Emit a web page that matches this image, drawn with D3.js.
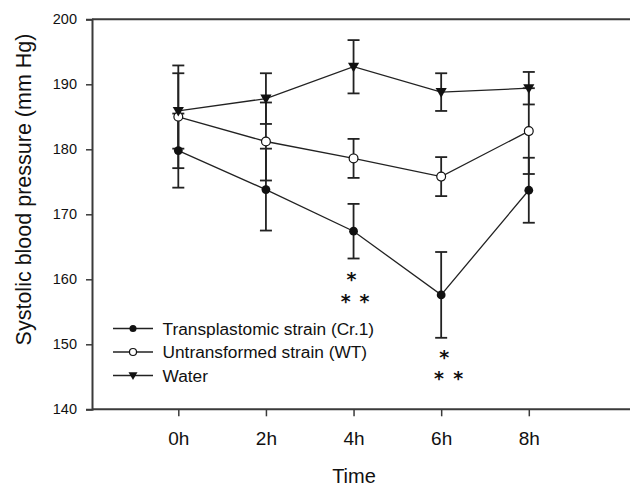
<!DOCTYPE html>
<html>
<head>
<meta charset="utf-8">
<script src="https://cdn.jsdelivr.net/npm/d3@7"></script>
<style>
  body { margin: 0; background: #fff; }
  svg { display: block; font-family: "Liberation Sans", Arial, sans-serif; }
</style>
</head>
<body>
<svg id="chart" width="630" height="486"></svg>
<script>
// ---- data ----
const times = [0, 2, 4, 6, 8];
const timeLabels = ["0h", "2h", "4h", "6h", "8h"];
const yTicks = [140, 150, 160, 170, 180, 190, 200];
const seriesNames = ["Transplastomic strain (Cr.1)", "Untransformed strain (WT)", "Water"];
const cr1Values = [179.8, 173.8, 167.4, 157.6, 173.7];
const cr1Errors = [5.7, 6.3, 4.2, 6.6, 5.0];
const wtValues = [185.0, 181.2, 178.6, 175.8, 182.8];
const wtErrors = [7.9, 6.0, 3.0, 3.0, 6.6];
const waterValues = [185.9, 187.8, 192.7, 188.8, 189.4];
const waterErrors = [5.8, 3.9, 4.1, 2.9, 2.5];
// significance asterisks: [time (h), value (mm Hg)]
const sigTimes = [3.95, 3.82, 4.25, 6.07, 5.95, 6.39];
const sigValues = [160.7, 157.3, 157.3, 148.7, 145.5, 145.5];

const series = [
  { name: seriesNames[0], values: cr1Values, errors: cr1Errors, marker: "filledCircle" },
  { name: seriesNames[1], values: wtValues, errors: wtErrors, marker: "openCircle" },
  { name: seriesNames[2], values: waterValues, errors: waterErrors, marker: "triangle" }
];

// ---- layout ----
const svg = d3.select("#chart");
const pLeft = 92, pRight = 630, pTop = 19.3, pBottom = 409.3;
const x = d3.scaleLinear().domain([-1.97, 10.31]).range([pLeft, pRight]);
const y = d3.scaleLinear().domain([140, 200]).range([pBottom, pTop]);
const axisColor = "#3a3a3a";
const ink = "#111";

// frame lines
svg.append("line").attr("x1", pLeft).attr("x2", pRight).attr("y1", pTop).attr("y2", pTop)
  .attr("stroke", axisColor).attr("stroke-width", 2);
svg.append("line").attr("x1", pLeft).attr("x2", pRight).attr("y1", pBottom).attr("y2", pBottom)
  .attr("stroke", axisColor).attr("stroke-width", 2);

// y axis
const yAxis = d3.axisLeft(y).tickValues(yTicks).tickSize(6).tickPadding(9).tickFormat(d3.format("d"));
const gy = svg.append("g").attr("transform", `translate(${pLeft},0)`).call(yAxis);
gy.select(".domain").attr("stroke", axisColor).attr("stroke-width", 2);
gy.selectAll(".tick line").attr("stroke", axisColor).attr("stroke-width", 1.5);
gy.selectAll(".tick text").attr("font-size", 14.5).attr("fill", "#111")
  .attr("font-family", "Liberation Sans, Arial, sans-serif");

// x axis
const xAxis = d3.axisBottom(x).tickValues(times).tickSize(7).tickPadding(15)
  .tickFormat((d, i) => timeLabels[i]);
const gx = svg.append("g").attr("transform", `translate(0,${pBottom})`).call(xAxis);
gx.select(".domain").remove();
gx.selectAll(".tick line").attr("stroke", axisColor).attr("stroke-width", 1.5);
gx.selectAll(".tick text").attr("font-size", 19).attr("fill", "#111")
  .attr("font-family", "Liberation Sans, Arial, sans-serif");

// axis titles
svg.append("text").attr("x", 354).attr("y", 483).attr("text-anchor", "middle")
  .attr("font-size", 20).attr("fill", "#111").text("Time");
svg.append("text").attr("transform", `translate(31,189.5) rotate(-90)`)
  .attr("text-anchor", "middle").attr("font-size", 21.5).attr("fill", "#111")
  .text("Systolic blood pressure (mm Hg)");

// marker drawing
function drawMarker(g, type, cx, cy, scale) {
  const s = scale || 1;
  if (type === "filledCircle") {
    g.append("circle").attr("cx", cx).attr("cy", cy).attr("r", 4.4 * s).attr("fill", ink);
  } else if (type === "openCircle") {
    g.append("circle").attr("cx", cx).attr("cy", cy).attr("r", 4.4 * s).attr("fill", "#fff")
      .attr("stroke", ink).attr("stroke-width", 1.2);
  } else {
    const w = 5.6 * s, h = 4 * s;
    g.append("path").attr("d", `M${cx - w},${cy - h}L${cx + w},${cy - h}L${cx},${cy + h * 1.4}Z`)
      .attr("fill", ink);
  }
}

const plot = svg.append("g");
const lineGen = d3.line().x((d, i) => x(times[i])).y(d => y(d));

// lines
series.forEach(s => {
  plot.append("path").datum(s.values).attr("d", lineGen)
    .attr("fill", "none").attr("stroke", "#222").attr("stroke-width", 1.3);
});
// error bars
series.forEach(s => {
  s.values.forEach((v, i) => {
    const cx = x(times[i]);
    const y1 = y(v + s.errors[i]), y2 = y(v - s.errors[i]);
    plot.append("line").attr("x1", cx).attr("x2", cx).attr("y1", y1).attr("y2", y2)
      .attr("stroke", "#222").attr("stroke-width", 1.8);
    [y1, y2].forEach(yy => {
      plot.append("line").attr("x1", cx - 6).attr("x2", cx + 6).attr("y1", yy).attr("y2", yy)
        .attr("stroke", "#222").attr("stroke-width", 1.8);
    });
  });
});
// markers
series.forEach(s => {
  s.values.forEach((v, i) => drawMarker(plot, s.marker, x(times[i]), y(v)));
});

// significance asterisks
const astSize = 19;
sigTimes.forEach((t, i) => {
  svg.append("text").attr("x", x(t)).attr("y", y(sigValues[i]) + 0.6 * astSize)
    .attr("text-anchor", "middle").attr("font-size", astSize)
    .attr("font-family", "DejaVu Sans, sans-serif").attr("font-weight", "bold")
    .attr("fill", ink).text("*");
});

// legend
const legend = svg.append("g");
series.forEach((s, i) => {
  const ly = 328.5 + i * 23.5;
  legend.append("line").attr("x1", 113).attr("x2", 153).attr("y1", ly).attr("y2", ly)
    .attr("stroke", "#222").attr("stroke-width", 1.3);
  drawMarker(legend, s.marker, 133, ly, 0.8);
  legend.append("text").attr("x", 162.5).attr("y", ly).attr("dy", "0.35em")
    .attr("font-size", 17.3).attr("fill", "#111").text(s.name);
});
</script>
</body>
</html>
